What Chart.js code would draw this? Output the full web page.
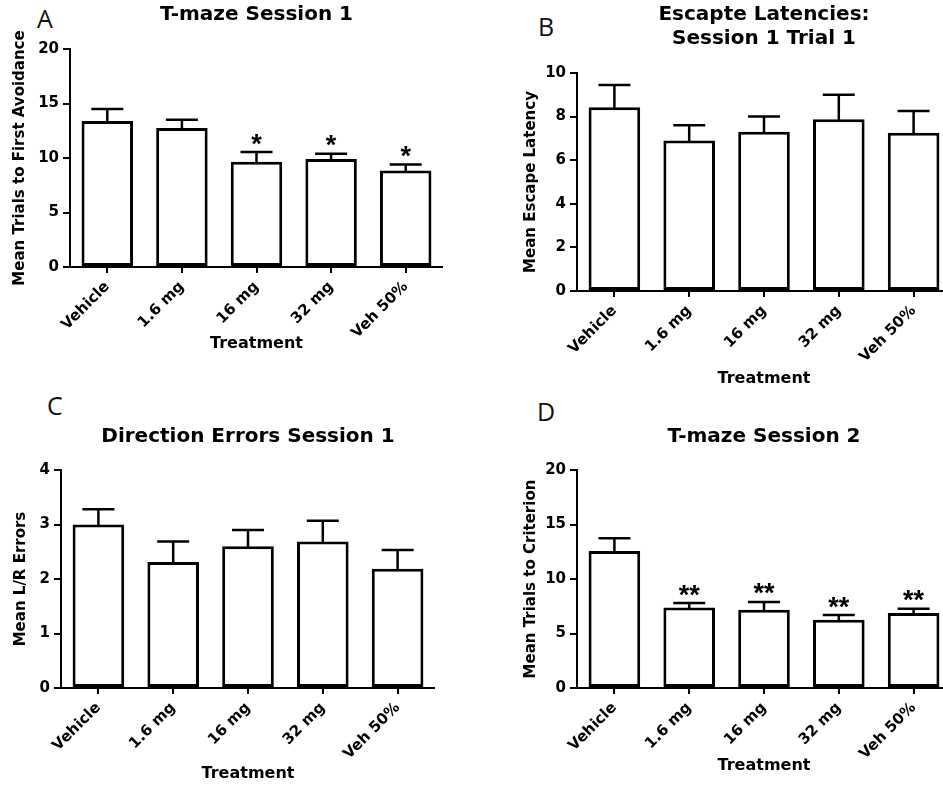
<!DOCTYPE html>
<html>
<head>
<meta charset="utf-8">
<script src="https://cdn.jsdelivr.net/npm/chart.js@4.4.0/dist/chart.umd.min.js"></script>
<style>
  html, body { margin: 0; padding: 0; background: #fff; overflow: hidden; width: 943px; height: 785px; }
  canvas { position: absolute; }
  .letter { position: absolute; font-family: 'Open Sans', sans-serif; font-size: 25px; line-height: 25px; color: #111; }
</style>
</head>
<body>
<div class="letter" style="left:37px;top:6px">A</div>
<div class="letter" style="left:538px;top:14px">B</div>
<div class="letter" style="left:47px;top:393px">C</div>
<div class="letter" style="left:537px;top:399px">D</div>

<canvas id="chartA" width="443" height="390" style="left:0;top:0"></canvas>
<canvas id="chartB" width="481" height="390" style="left:470px;top:0"></canvas>
<canvas id="chartC" width="435" height="395" style="left:0;top:390px"></canvas>
<canvas id="chartD" width="481" height="395" style="left:470px;top:390px"></canvas>

<script>
const treatments = ['Vehicle', '1.6 mg', '16 mg', '32 mg', 'Veh 50%'];

// A: trials to first avoidance (mean, SEM)
const avoidMeans = [13.4, 12.75, 9.65, 9.9, 8.85];
const avoidSem = [1.1, 0.75, 0.9, 0.5, 0.55];
const avoidStars = ['', '', '*', '*', '*'];

// B: escape latency
const latencyMeans = [8.43, 6.9, 7.3, 7.88, 7.26];
const latencySem = [1.02, 0.7, 0.7, 1.12, 1.0];

// C: L/R errors
const errorMeans = [3.0, 2.31, 2.6, 2.69, 2.19];
const errorSem = [0.28, 0.38, 0.3, 0.38, 0.34];

// D: trials to criterion
const criterionMeans = [12.58, 7.39, 7.18, 6.26, 6.87];
const criterionSem = [1.16, 0.4, 0.72, 0.43, 0.4];
const criterionStars = ['', '**', '**', '**', '**'];

Chart.defaults.font.family = 'DejaVu Sans';
Chart.defaults.color = '#000';

function makePanel(id, p) {
  const errorBars = {
    id: 'errorBars',
    afterDatasetsDraw(chart) {
      const ctx = chart.ctx;
      const y = chart.scales.y;
      const meta = chart.getDatasetMeta(0);
      ctx.save();
      ctx.strokeStyle = '#000';
      ctx.fillStyle = '#000';
      ctx.lineWidth = 2.5;
      meta.data.forEach((bar, i) => {
        const top = y.getPixelForValue(p.means[i] + p.sem[i]);
        ctx.beginPath();
        ctx.moveTo(bar.x, bar.y + 1);
        ctx.lineTo(bar.x, top);
        ctx.moveTo(bar.x - 16, top);
        ctx.lineTo(bar.x + 16, top);
        ctx.stroke();
        const s = p.stars ? p.stars[i] : '';
        if (s) {
          ctx.font = 'bold 27px "Liberation Sans"';
          ctx.textAlign = 'center';
          ctx.textBaseline = 'alphabetic';
          const m = ctx.measureText(s);
          const cy = top - 13;
          ctx.fillText(s, bar.x, cy + (m.actualBoundingBoxAscent - m.actualBoundingBoxDescent) / 2);
        }
      });
      ctx.restore();
    }
  };

  return new Chart(document.getElementById(id), {
    type: 'bar',
    data: {
      labels: treatments,
      datasets: [{
        data: p.means,
        backgroundColor: '#fff',
        borderColor: '#000',
        borderWidth: 3,
        borderSkipped: false,
        categoryPercentage: 1,
        barPercentage: 0.69
      }]
    },
    options: {
      responsive: false,
      animation: false,
      devicePixelRatio: 1,
      layout: { padding: 0 },
      plugins: {
        legend: { display: false },
        tooltip: { enabled: false },
        title: {
          display: true,
          fullSize: false,
          text: p.title,
          color: '#000',
          font: { size: 20, weight: 'bold', lineHeight: 1.2 },
          padding: { top: p.titleTop, bottom: p.titleBottom }
        }
      },
      scales: {
        x: {
          afterFit: s => { s.height = p.xHeight; },
          grid: { offset: false, drawOnChartArea: false, color: '#000', lineWidth: 2, tickLength: 6 },
          border: { color: '#000', width: 2 },
          ticks: { minRotation: 45, maxRotation: 45, padding: 5, color: '#000', font: { size: 15, weight: 'bold' } },
          title: { display: true, text: 'Treatment', color: '#000', font: { size: 16, weight: 'bold' }, padding: { top: 0, bottom: p.xTitlePad } }
        },
        y: {
          min: 0,
          max: p.max,
          afterFit: s => { s.width = p.yWidth; },
          grid: { drawOnChartArea: false, color: '#000', lineWidth: 2, tickLength: 7 },
          border: { color: '#000', width: 2 },
          ticks: { stepSize: p.step, padding: 4, color: '#000', font: { size: 15, weight: 'bold' } },
          title: { display: true, text: p.yTitle, color: '#000', font: { size: 15, weight: 'bold' }, padding: { top: p.yTitlePad, bottom: 0 } }
        }
      }
    },
    plugins: [errorBars]
  });
}

makePanel('chartA', {
  means: avoidMeans, sem: avoidSem, stars: avoidStars,
  max: 20, step: 5, title: 'T-maze Session 1', yTitle: 'Mean Trials to First Avoidance',
  titleTop: 3, titleBottom: 22, yWidth: 70, xHeight: 123, yTitlePad: 11, xTitlePad: 37
});
makePanel('chartB', {
  means: latencyMeans, sem: latencySem,
  max: 10, step: 2, title: ['Escapte Latencies:', 'Session 1 Trial 1'], yTitle: 'Mean Escape Latency',
  titleTop: 3, titleBottom: 22, yWidth: 107, xHeight: 99, yTitlePad: 52, xTitlePad: 2
});
makePanel('chartC', {
  means: errorMeans, sem: errorSem,
  max: 4, step: 1, title: 'Direction Errors Session 1', yTitle: 'Mean L/R Errors',
  titleTop: 35, titleBottom: 21, yWidth: 61, xHeight: 97, yTitlePad: 12, xTitlePad: 2
});
makePanel('chartD', {
  means: criterionMeans, sem: criterionSem, stars: criterionStars,
  max: 20, step: 5, title: 'T-maze Session 2', yTitle: 'Mean Trials to Criterion',
  titleTop: 35, titleBottom: 21, yWidth: 107, xHeight: 97, yTitlePad: 52, xTitlePad: 10
});
</script>
</body>
</html>
